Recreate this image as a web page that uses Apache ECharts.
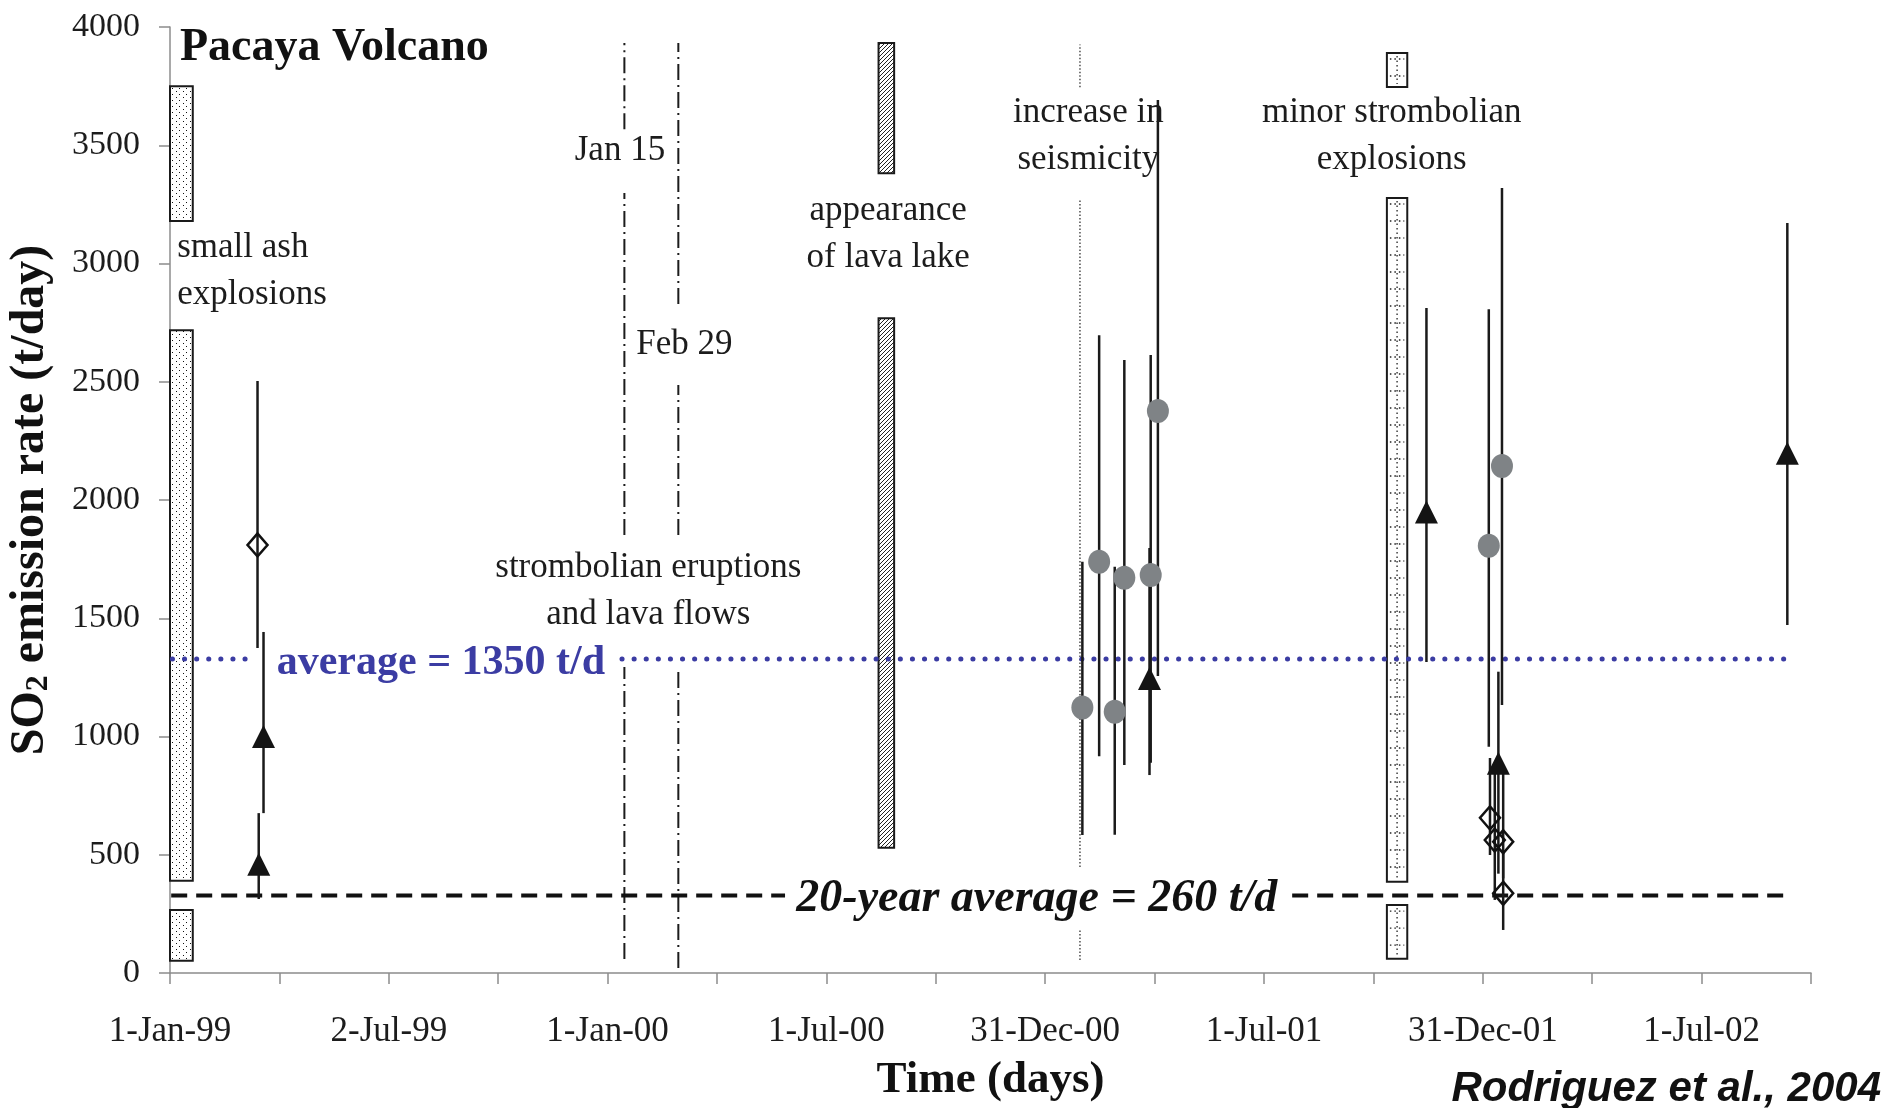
<!DOCTYPE html>
<html>
<head>
<meta charset="utf-8">
<title>Pacaya Volcano SO2 emission rate</title>
<script src="https://cdn.jsdelivr.net/npm/echarts@6/dist/echarts.min.js"></script>
<style>
  html, body { margin: 0; padding: 0; background: #fff; }
  #chart { width: 1902px; height: 1108px; }
</style>
</head>
<body>
<div id="chart"></div>
<script>
// ---- values (dates, SO2 in t/day) ----
const tickLabels = ['1-Jan-99', '2-Jul-99', '1-Jan-00', '1-Jul-00', '31-Dec-00', '1-Jul-01', '31-Dec-01', '1-Jul-02'];

// open diamonds
const diamondDates = ['1999-03-15', '2002-01-06', '2002-01-10', '2002-01-17', '2002-01-17'];
const diamondValues = [1810, 656, 562, 555, 337];
const diamondLow = [1374, 499, 309, 400, 182];
const diamondHigh = [2503, 909, 845, 845, 520];

// black triangles
const triangleDates = ['1999-03-16', '1999-03-20', '2001-03-28', '2001-11-14', '2002-01-13', '2002-09-11'];
const triangleValues = [460, 1000, 1245, 1949, 887, 2198];
const triangleLow = [313, 676, 837, 1315, 420, 1471];
const triangleHigh = [676, 1442, 1797, 2812, 1274, 3171];

// grey circles
const circleDates = ['2001-01-31', '2001-02-14', '2001-02-27', '2001-03-07', '2001-03-29', '2001-04-04', '2002-01-05', '2002-01-16'];
const circleValues = [1123, 1739, 1105, 1671, 1683, 2376, 1807, 2144];
const circleLow = [583, 917, 585, 879, 889, 1256, 957, 1133];
const circleHigh = [1739, 2697, 1718, 2592, 2613, 3691, 2807, 3319];

// activity periods (boxes), broken where the notes sit
const ashPeriod = ['1999-01-01', '1999-01-20'];
const ashRanges = [[52, 266], [390, 2718], [3180, 3750]];
const lavaLakePeriod = ['2000-08-14', '2000-08-27'];
const lavaLakeRanges = [[530, 2769], [3382, 3932]];
const minorPeriod = ['2001-10-12', '2001-10-29'];
const minorRanges = [[60, 287], [386, 3277], [3746, 3890]];

// event markers (vertical lines)
const jan15Date = '2000-01-15';
const jan15Ranges = [[59, 1294], [1852, 3298], [3568, 3932]];
const feb29Date = '2000-02-29';
const feb29Ranges = [[21, 1294], [1852, 2486], [2829, 3932]];
const seismicDate = '2001-01-29';
const seismicRanges = [[55, 182], [448, 3268], [3745, 3926]];

// averages (horizontal lines)
const avgLevel = 1328;
const avgSpans = [['1999-01-03', '1999-03-08'], ['2000-01-13', '2002-09-13']];
const avg20Level = 328;
const avg20Spans = [['1999-01-02', '2000-05-28'], ['2001-07-25', '2002-09-13']];

// notes
const noteText = ['small ash\nexplosions', 'Jan 15', 'Feb 29', 'strombolian eruptions\nand lava flows',
  'appearance\nof lava lake', 'increase in\nseismicity', 'minor strombolian\nexplosions',
  'average = 1350 t/d', '20-year average = 260 t/d'];
const noteDates = ['1999-01-07', '2000-02-18', '2000-01-25', '2000-02-04', '2000-08-22', '2001-02-05', '2001-10-16', '1999-03-31', '2000-12-24'];
const noteValues = [2968, 3477, 2657, 1613, 3122, 3539, 3539, 1312, 313];

// ---- helpers ----
const day = s => {
  const [y, m, d] = s.split('-').map(Number);
  return (Date.UTC(y, m - 1, d) - Date.UTC(1999, 0, 1)) / 864e5;
};

function makePattern(w, h, draw) {
  const c = document.createElement('canvas');
  c.width = w; c.height = h;
  const ctx = c.getContext('2d');
  ctx.fillStyle = '#fff';
  ctx.fillRect(0, 0, w, h);
  draw(ctx);
  return { image: c, repeat: 'repeat' };
}
const stipple = makePattern(7, 6, ctx => {
  ctx.fillStyle = '#111';
  ctx.fillRect(1, 1, 1, 1);
  ctx.fillRect(4, 4, 1, 1);
});
const hatch = makePattern(4, 4, ctx => {
  ctx.strokeStyle = '#222';
  ctx.lineWidth = 1;
  ctx.beginPath();
  ctx.moveTo(0, 4); ctx.lineTo(4, 0);
  ctx.moveTo(-1, 1); ctx.lineTo(1, -1);
  ctx.moveTo(3, 5); ctx.lineTo(5, 3);
  ctx.stroke();
});

function boxSeries(period, ranges, fill, inner) {
  return {
    type: 'custom', silent: true, z: 2,
    data: ranges.map(r => [day(period[0]), day(period[1]), r[0], r[1]]),
    encode: { x: [0, 1], y: [2, 3] },
    renderItem(params, api) {
      const a = api.coord([api.value(0), api.value(3)]);
      const b = api.coord([api.value(1), api.value(2)]);
      const x = a[0], y = a[1], w = b[0] - a[0], h = b[1] - a[1];
      const children = [{
        type: 'rect', shape: { x, y, width: w, height: h },
        style: { fill: fill || '#fff', stroke: '#1a1a1a', lineWidth: 2 }
      }];
      if (inner) children.push(...inner(x, y, w, h));
      return { type: 'group', children };
    }
  };
}

// dotted grid inside the "minor strombolian" boxes
const dotted = { stroke: '#222', lineWidth: 1.3, lineDash: [1.5, 3] };
function dottedGrid(x, y, w, h) {
  const els = [{ type: 'line', shape: { x1: x + w / 2, y1: y + 3, x2: x + w / 2, y2: y + h - 3 }, style: dotted }];
  for (let yy = y + 6; yy < y + h - 3; yy += 17) {
    els.push({ type: 'line', shape: { x1: x + 3, y1: yy, x2: x + w - 3, y2: yy }, style: dotted });
  }
  return els;
}

function vLines(date, ranges, style, z) {
  return {
    type: 'custom', silent: true, z: z || 3,
    data: ranges.map(r => [day(date), r[0], r[1]]),
    encode: { x: 0, y: [1, 2] },
    renderItem(params, api) {
      const a = api.coord([api.value(0), api.value(1)]);
      const b = api.coord([api.value(0), api.value(2)]);
      return { type: 'line', shape: { x1: a[0], y1: a[1], x2: b[0], y2: b[1] }, style };
    }
  };
}

function hLines(level, spans, style) {
  return {
    type: 'custom', silent: true, z: 3,
    data: spans.map(s => [day(s[0]), day(s[1]), level]),
    encode: { x: [0, 1], y: 2 },
    renderItem(params, api) {
      const a = api.coord([api.value(0), api.value(2)]);
      const b = api.coord([api.value(1), api.value(2)]);
      return { type: 'line', shape: { x1: a[0], y1: a[1], x2: b[0], y2: b[1] }, style };
    }
  };
}

const errData = [];
[[diamondDates, diamondLow, diamondHigh], [triangleDates, triangleLow, triangleHigh], [circleDates, circleLow, circleHigh]]
  .forEach(([d, lo, hi]) => d.forEach((s, i) => errData.push([day(s), lo[i], hi[i]])));

const serif = 'Liberation Serif';
const plainNote = { fontSize: 35, fontFamily: serif, fill: '#1c1c1c', lineHeight: 47 };
const noteLook = [
  { align: 'left' }, { align: 'right' }, { align: 'left' }, { align: 'center' },
  { align: 'center' }, { align: 'center' }, { align: 'center' },
  { align: 'left', fontSize: 42, fontWeight: 'bold', fill: '#3b3ca3', lineHeight: 42 },
  { align: 'center', fontSize: 46, fontWeight: 'bold', fontStyle: 'italic', fill: '#111', lineHeight: 46 }
];

const axisGrey = { color: '#8c8c8c', width: 1.5 };
const dashDot = { stroke: '#1c1c1c', lineWidth: 2, lineDash: [16, 5, 2, 5] };

const chart = echarts.init(document.getElementById('chart'));
chart.setOption({
  animation: false,
  backgroundColor: '#fff',
  title: [{
    text: 'Pacaya Volcano', left: 180, top: 25, padding: 0,
    textStyle: { fontSize: 46, fontWeight: 'bold', fontFamily: serif, color: '#111', lineHeight: 46 }
  }, {
    text: 'Rodriguez et al., 2004', right: 21, top: 1068, padding: 0,
    textStyle: { fontSize: 42, fontWeight: 'bold', fontStyle: 'italic', fontFamily: 'Liberation Sans', color: '#111', lineHeight: 42 }
  }],
  grid: { left: 170, right: 91, top: 27, bottom: 135, outerBoundsMode: 'none' },
  xAxis: {
    type: 'value', min: 0, max: 1368.75, interval: 91.25,
    axisLine: { show: true, onZero: false, lineStyle: axisGrey },
    axisTick: { show: true, length: 11, lineStyle: axisGrey },
    splitLine: { show: false },
    axisLabel: {
      margin: 42, fontSize: 35, fontFamily: serif, color: '#1c1c1c', lineHeight: 34, hideOverlap: false,
      formatter: v => {
        const k = v / 182.5;
        return Math.abs(k - Math.round(k)) < 1e-6 ? (tickLabels[Math.round(k)] || '') : '';
      }
    },
    name: 'Time (days)', nameLocation: 'middle', nameGap: 85,
    nameTextStyle: { fontSize: 45, fontWeight: 'bold', fontFamily: serif, color: '#111', lineHeight: 45 }
  },
  yAxis: {
    type: 'value', min: 0, max: 4000, interval: 500,
    axisLine: { show: true, lineStyle: axisGrey },
    axisTick: { show: true, length: 11, lineStyle: axisGrey },
    splitLine: { show: false },
    axisLabel: { margin: 30, fontSize: 34, fontFamily: serif, color: '#1c1c1c', formatter: v => String(v) },
    name: '{a|SO}{s|2}{a| emission rate (t/day)}', nameLocation: 'middle', nameGap: 115, nameRotate: 90,
    nameTextStyle: {
      rich: {
        a: { fontSize: 48, fontWeight: 'bold', fontFamily: serif, color: '#111', lineHeight: 48 },
        s: { fontSize: 32, fontWeight: 'bold', fontFamily: serif, color: '#111', lineHeight: 21, verticalAlign: 'bottom' }
      }
    }
  },
  series: [
    boxSeries(ashPeriod, ashRanges, stipple),
    boxSeries(lavaLakePeriod, lavaLakeRanges, hatch),
    boxSeries(minorPeriod, minorRanges, '#fff', dottedGrid),
    vLines(jan15Date, jan15Ranges, dashDot),
    vLines(feb29Date, feb29Ranges, dashDot),
    vLines(seismicDate, seismicRanges, { stroke: '#333', lineWidth: 1.3, lineDash: [1.5, 2] }),
    hLines(avgLevel, avgSpans, { stroke: '#3b3ca3', lineWidth: 5, lineDash: [0.1, 12], lineCap: 'round' }),
    hLines(avg20Level, avg20Spans, { stroke: '#111', lineWidth: 4, lineDash: [16, 9] }),
    {
      type: 'custom', silent: true, z: 4,
      data: errData, encode: { x: 0, y: [1, 2] },
      renderItem(params, api) {
        const a = api.coord([api.value(0), api.value(1)]);
        const b = api.coord([api.value(0), api.value(2)]);
        return { type: 'line', shape: { x1: a[0], y1: a[1], x2: b[0], y2: b[1] }, style: { stroke: '#1a1a1a', lineWidth: 2.5 } };
      }
    },
    {
      type: 'scatter', name: 'circles', silent: true, z: 5,
      symbol: 'circle', symbolSize: [22, 24],
      itemStyle: { color: '#7f8386', opacity: 1 },
      data: circleDates.map((s, i) => [day(s), circleValues[i]])
    },
    {
      type: 'scatter', name: 'triangles', silent: true, z: 6,
      symbol: 'triangle', symbolSize: [23, 23],
      itemStyle: { color: '#141414', opacity: 1 },
      data: triangleDates.map((s, i) => [day(s), triangleValues[i]])
    },
    {
      type: 'scatter', name: 'diamonds', silent: true, z: 6,
      symbol: 'diamond', symbolSize: [20, 23],
      itemStyle: { color: 'rgba(255,255,255,0)', borderColor: '#111', borderWidth: 2.5, opacity: 1 },
      data: diamondDates.map((s, i) => [day(s), diamondValues[i]])
    },
    {
      type: 'custom', silent: true, z: 7,
      data: noteDates.map((s, i) => [day(s), noteValues[i], i]),
      encode: { x: 0, y: 1 },
      renderItem(params, api) {
        const i = api.value(2);
        const p = api.coord([api.value(0), api.value(1)]);
        const look = Object.assign({}, plainNote, noteLook[i]);
        return {
          type: 'text', x: p[0], y: p[1],
          style: Object.assign({ text: noteText[i], verticalAlign: 'middle' }, look, { fontFamily: serif })
        };
      }
    }
  ]
});
</script>
</body>
</html>
